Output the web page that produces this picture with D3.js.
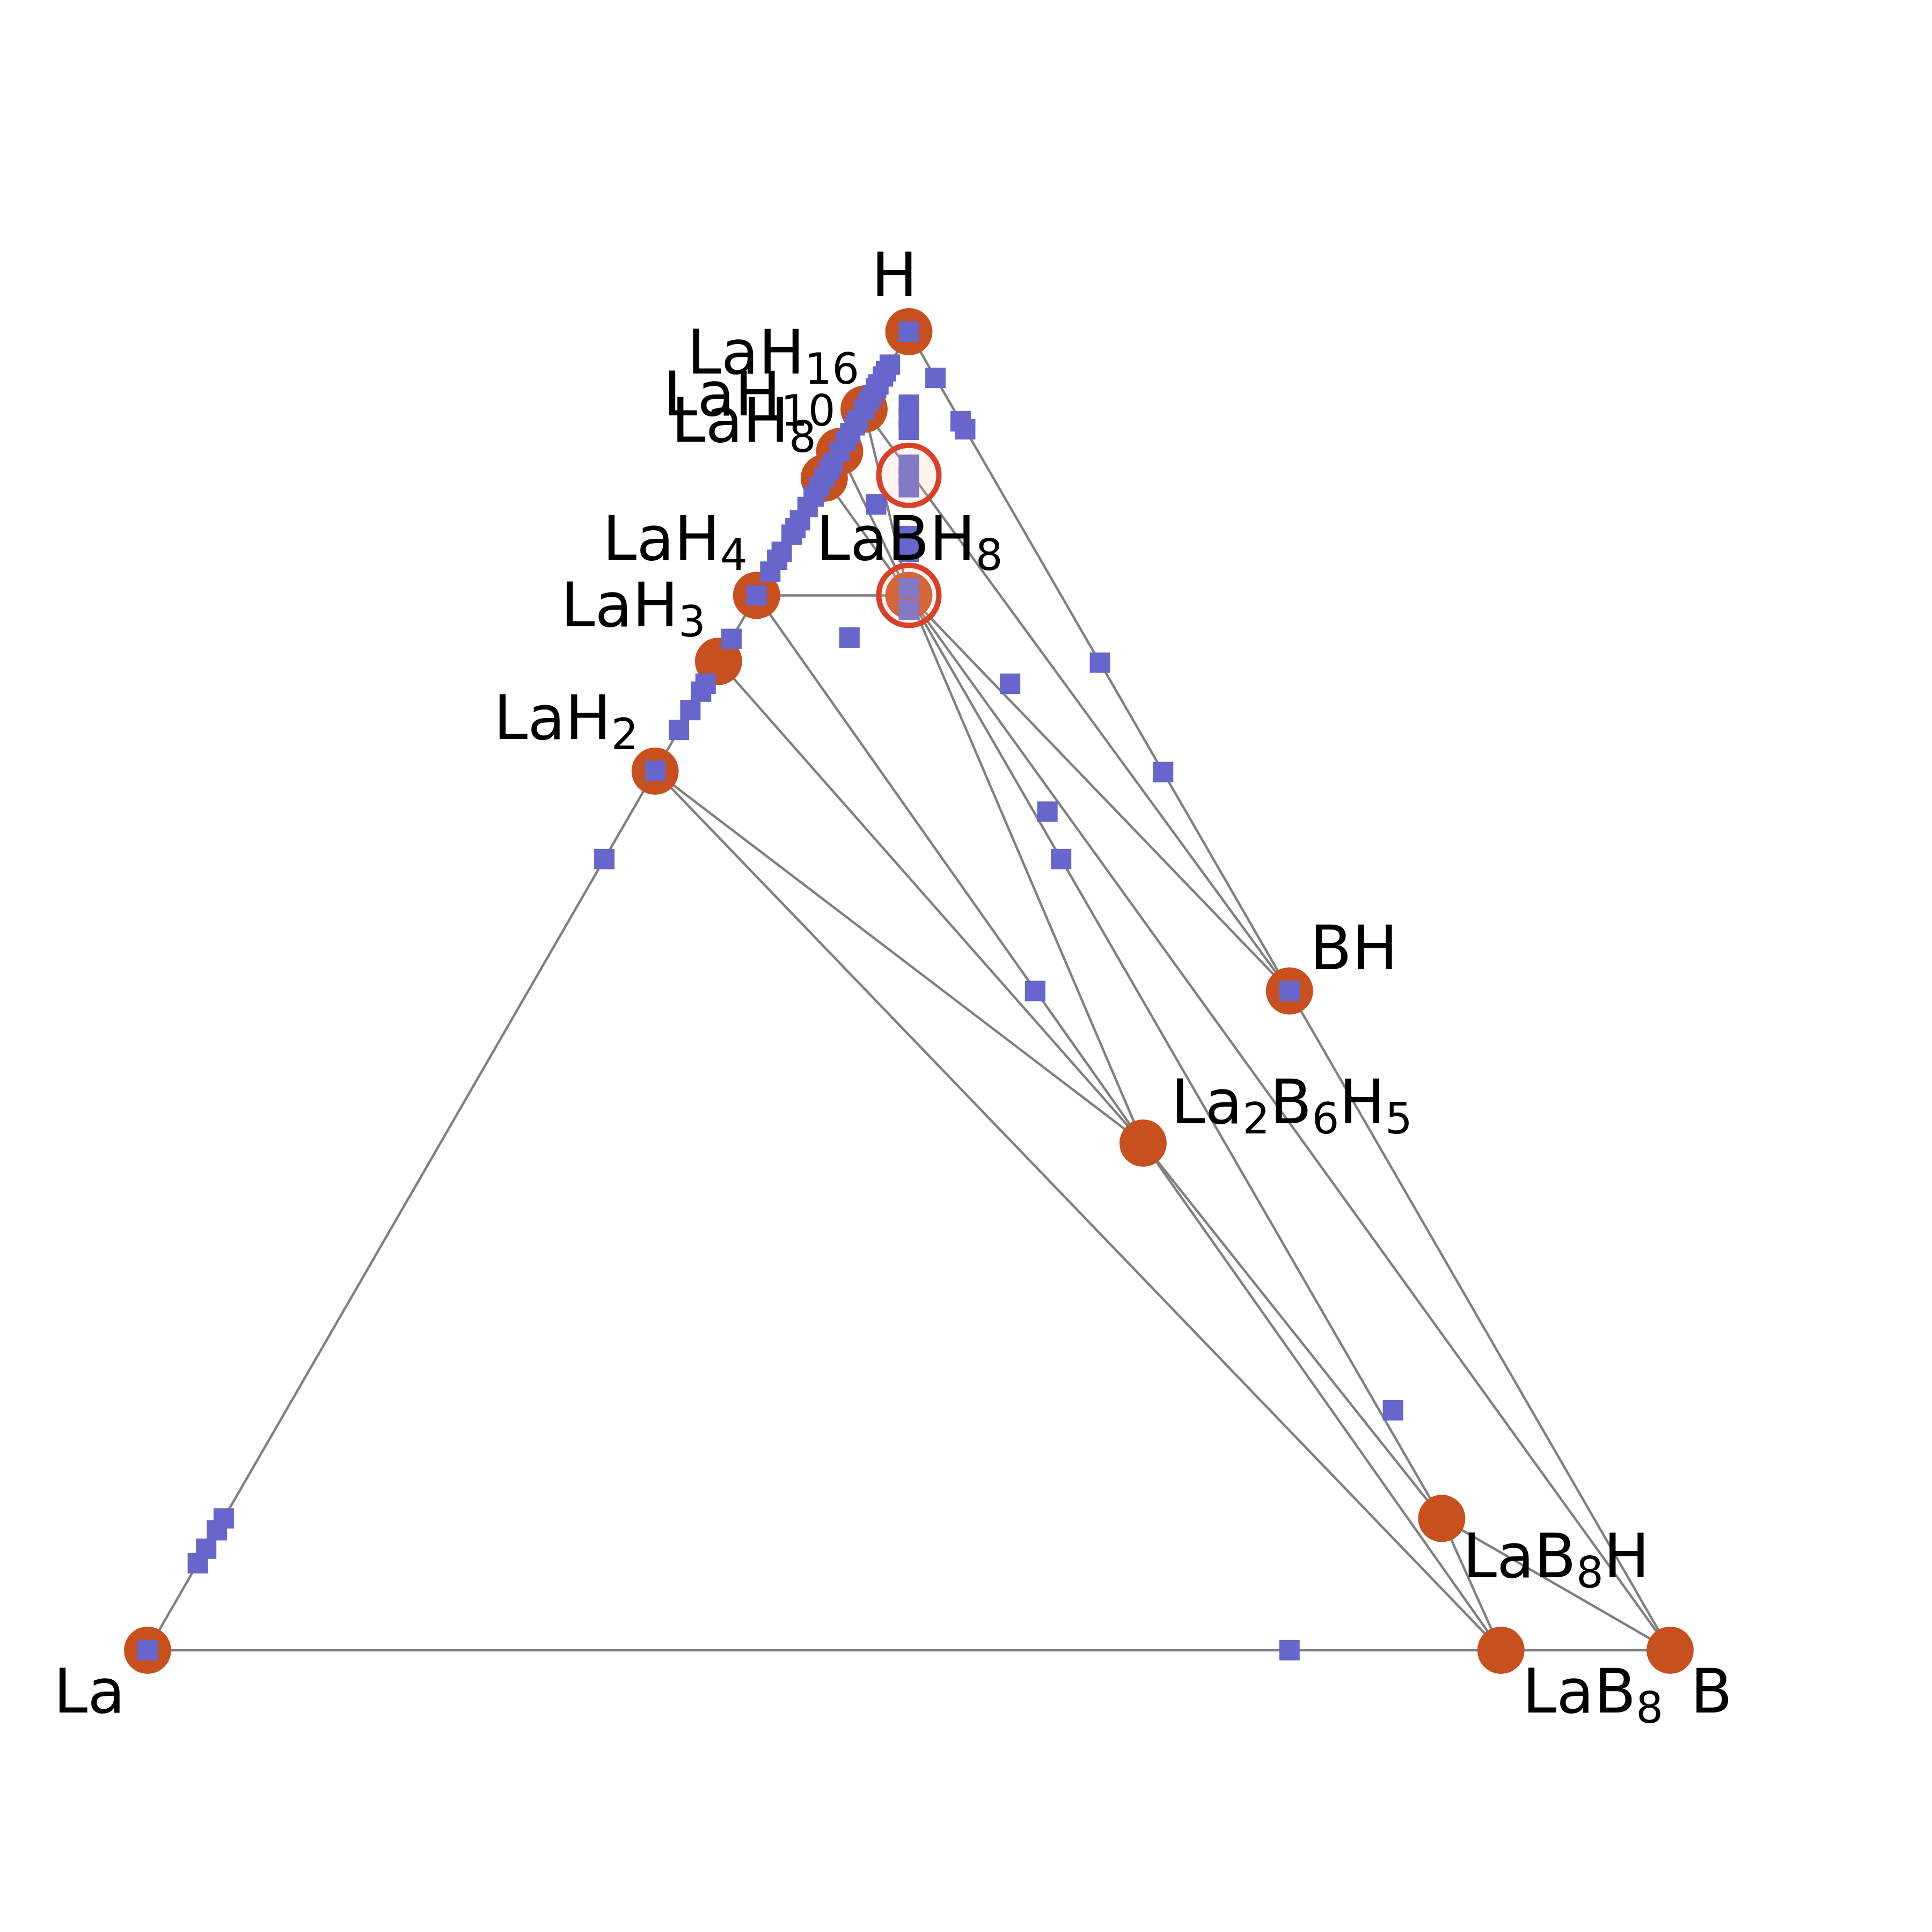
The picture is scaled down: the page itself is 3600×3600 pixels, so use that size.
<!DOCTYPE html>
<html>
<head>
<meta charset="utf-8">
<script src="https://cdn.jsdelivr.net/npm/d3@7"></script>
<style>
  body { margin: 0; background: #ffffff; }
  text { font-family: "DejaVu Sans", sans-serif; }
</style>
</head>
<body>
<svg id="canvas" width="3600" height="3600"></svg>
<script>
// stable phases on the hull: name + atom counts (La, B, H)
const phaseNames = ["La", "LaH2", "LaH3", "LaH4", "LaH8", "LaH10", "LaH16", "H", "BH", "B", "LaB8", "LaB8H", "La2B6H5", "LaBH8"];
const phaseCounts = [[1,0,0],[1,0,2],[1,0,3],[1,0,4],[1,0,8],[1,0,10],[1,0,16],[0,0,1],[0,1,1],[0,1,0],[1,8,0],[1,8,1],[2,6,5],[1,1,8]];

// tie lines between stable phases
const tieLines = [
  ["La","LaH2"],["LaH2","LaH3"],["LaH3","LaH4"],["LaH4","LaH8"],["LaH8","LaH10"],["LaH10","LaH16"],["LaH16","H"],
  ["H","BH"],["BH","B"],["B","LaB8"],["LaB8","La"],
  ["LaH2","LaB8"],["LaH2","La2B6H5"],["LaH3","La2B6H5"],["LaH4","La2B6H5"],["LaH4","LaBH8"],
  ["LaH8","LaBH8"],["LaH10","LaBH8"],["LaH16","LaBH8"],["LaH16","BH"],
  ["LaBH8","BH"],["LaBH8","B"],["LaBH8","LaB8H"],["LaBH8","La2B6H5"],
  ["La2B6H5","LaB8H"],["La2B6H5","LaB8"],["LaB8H","LaB8"],["LaB8H","B"]
];

// computed structures (blue squares)
// on the La-H side: fraction H
const laHSideH = [0, 0.066, 0.077, 0.091, 0.100, 0.600, 0.667, 0.698, 0.713, 0.727, 0.733, 0.767, 0.800, 0.818,
  0.827, 0.833, 0.846, 0.851, 0.857, 0.867, 0.875, 0.882, 0.889, 0.895, 0.900, 0.909, 0.917, 0.923,
  0.929, 0.933, 0.941, 0.947, 0.952, 0.957, 0.960, 0.966, 0.970, 0.975, 1];
// with La:B = 1:1: fraction H
const laBColumnH = [0.9446, 0.9349, 0.9255, 0.8991, 0.8905, 0.882, 0.845, 0.8331, 0.8055, 0.7892];
// everything else: [fraction B, fraction H]
const otherStructs = [
  [0.035, 0.965], [0.068, 0.932], [0.074, 0.926], [0.251, 0.749], [0.334, 0.666], [0.5, 0.5], [0.75, 0],
  [0.044, 0.869], [0.077, 0.768], [0.200, 0.733], [0.273, 0.636], [0.300, 0.600], [0.333, 0.500], [0.727, 0.182]
];

// unstable candidates (open rings): [fraction B, fraction H]
const ringNames = ["LaBH16", "LaBH8"];
const ringB = [0.0545, 0.1];
const ringH = [0.891, 0.8];

// label placement relative to the point (anchor, dx, dy)
const labelPlace = {
  "La": ["end", -42, 116], "B": ["start", 38, 116], "H": ["middle", -27, -66],
  "LaH2": ["end", -31, -60], "LaH3": ["end", -24, -65], "LaH4": ["end", -17, -66],
  "LaH8": ["end", -15, -68], "LaH10": ["end", -8, -67], "LaH16": ["end", -9, -67],
  "LaBH8": ["middle", 1, -66], "BH": ["start", 38, -41], "La2B6H5": ["start", 52, -37],
  "LaB8H": ["start", 39, 110], "LaB8": ["start", 40, 116]
};

const canvas = d3.select("#canvas");
const SQ3 = Math.sqrt(3) / 2;

const xScale = d3.scaleLinear().domain([0, 1]).range([275, 3112]);
const yScale = d3.scaleLinear().domain([0, SQ3]).range([3075, 618]);

let toXY = (b, h) => [xScale(b + h / 2), yScale(h * SQ3)];

let phases = phaseNames.map((name, i) => {
  let c = phaseCounts[i];
  let n = c[0] + c[1] + c[2];
  let [x, y] = toXY(c[1] / n, c[2] / n);
  return { name: name, x: x, y: y };
});
let byName = {};
phases.forEach(p => byName[p.name] = p);

let squares = laHSideH.map(h => toXY(0, h)).
concat(laBColumnH.map(h => toXY((1 - h) / 2, h))).
concat(otherStructs.map(d => toXY(d[0], d[1])));

canvas.append("rect").
attr("width", 3600).
attr("height", 3600).
attr("fill", "#ffffff");

canvas.append("g").
selectAll("line").
data(tieLines).
enter().
append("line").
attr("x1", d => byName[d[0]].x).
attr("y1", d => byName[d[0]].y).
attr("x2", d => byName[d[1]].x).
attr("y2", d => byName[d[1]].y).
attr("stroke", "#808080").
attr("stroke-width", 4.5);

canvas.append("g").
selectAll("circle").
data(phases).
enter().
append("circle").
attr("cx", d => d.x).
attr("cy", d => d.y).
attr("r", 44).
attr("fill", "#c84f1e");

const sq = 38;
canvas.append("g").
selectAll("rect").
data(squares).
enter().
append("rect").
attr("x", d => d[0] - sq / 2).
attr("y", d => d[1] - sq / 2).
attr("width", sq).
attr("height", sq).
attr("fill", "#6666cc");

canvas.append("g").
selectAll("circle").
data(ringNames.map((name, i) => toXY(ringB[i], ringH[i]))).
enter().
append("circle").
attr("cx", d => d[0]).
attr("cy", d => d[1]).
attr("r", 56).
attr("fill", "rgb(255,200,170)").
attr("fill-opacity", 0.2).
attr("stroke", "#d9402a").
attr("stroke-width", 10);

// labels with subscripted counts
const fontSize = 114;
const subSize = 80;
const subDrop = 19;

let labels = canvas.append("g").
selectAll("text").
data(phases).
enter().
append("text").
attr("x", d => d.x + labelPlace[d.name][1]).
attr("y", d => d.y + labelPlace[d.name][2]).
attr("text-anchor", d => labelPlace[d.name][0]).
attr("font-size", fontSize).
attr("fill", "#000000");

labels.each(function (d) {
  let t = d3.select(this);
  let down = false;
  d.name.match(/[A-Za-z]+|\d+/g).forEach(part => {
    if (/\d/.test(part)) {
      t.append("tspan").attr("font-size", subSize).attr("dy", down ? 0 : subDrop).text(part);
      down = true;
    } else {
      t.append("tspan").attr("dy", down ? -subDrop : 0).text(part);
      down = false;
    }
  });
});
</script>
</body>
</html>
